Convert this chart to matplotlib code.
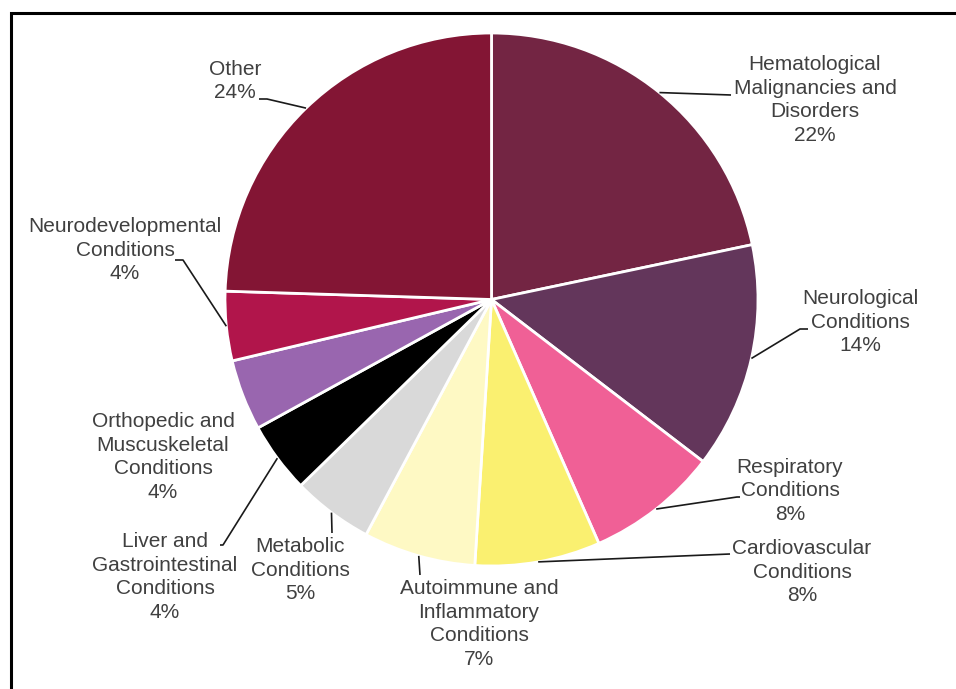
import matplotlib
matplotlib.use("Agg")
import matplotlib.pyplot as plt
from matplotlib.patches import Rectangle
import numpy as np

# ---- data ----
categories = [
    "Hematological\nMalignancies and\nDisorders",
    "Neurological\nConditions",
    "Respiratory\nConditions",
    "Cardiovascular\nConditions",
    "Autoimmune and\nInflammatory\nConditions",
    "Metabolic\nConditions",
    "Liver and\nGastrointestinal\nConditions",
    "Orthopedic and\nMuscuskeletal\nConditions",
    "Neurodevelopmental\nConditions",
    "Other",
]
shares = [21.7, 13.7, 8.0, 7.6, 6.8, 4.9, 4.3, 4.3, 4.2, 24.5]
colors = ["#732543", "#63365B", "#F06096", "#FAF070", "#FEF9C4",
          "#D9D9D9", "#000000", "#9966AF", "#B1154B", "#831534"]

# ---- layout (pixel coordinates, y measured from top) ----
W, H = 956, 689
label_pos = [(815, 100), (860, 322), (790, 491), (802, 572), (479, 624),
             (300, 570), (165, 577), (163, 457), (125, 250), (235, 81)]
leader_knees = [
    [(731, 95)],
    [(800, 329), (808, 329)],
    [(737, 497), (740, 497)],
    [(730, 554)],
    [(420, 575)],
    [(332, 533)],
    [(223, 545), (220, 545)],
    None,
    [(183, 260), (175, 260)],
    [(267, 99), (259, 99)],
]

plt.rcParams['font.family'] = ['Liberation Sans', 'DejaVu Sans']

fig = plt.figure(figsize=(W / 100, H / 100), dpi=100)
ax = fig.add_axes([0, 0, 1, 1])

cx, cy, R = 491.5, H - 299.5, 266.5
wedges, _ = ax.pie(shares, colors=colors, startangle=90, counterclock=False,
                   center=(cx, cy), radius=R,
                   wedgeprops=dict(edgecolor="white", linewidth=2))
ax.set_xlim(0, W)
ax.set_ylim(0, H)
ax.set_aspect("equal")
ax.axis("off")

total = sum(shares)
for i, (w, cat, val) in enumerate(zip(wedges, categories, shares)):
    pct = val / total * 100
    tx, ty = label_pos[i]
    ax.text(tx, H - ty, f"{cat}\n{pct:.0f}%", ha="center", va="center",
            multialignment="center", fontsize=15, color="#404040",
            linespacing=1.3)
    if leader_knees[i] is not None:
        mid = np.deg2rad((w.theta1 + w.theta2) / 2)
        ex, ey = cx + R * np.cos(mid), cy + R * np.sin(mid)
        xs = [ex] + [p[0] for p in leader_knees[i]]
        ys = [ey] + [H - p[1] for p in leader_knees[i]]
        ax.plot(xs, ys, color="#1a1a1a", lw=1.2, solid_capstyle="butt")

# frame (only left and top edges visible in the crop)
ax.add_patch(Rectangle((11, -60), W + 100, (H - 13) + 60, fill=False,
                       edgecolor="black", lw=2.2, clip_on=False))

fig.savefig("out.png", dpi=100)
